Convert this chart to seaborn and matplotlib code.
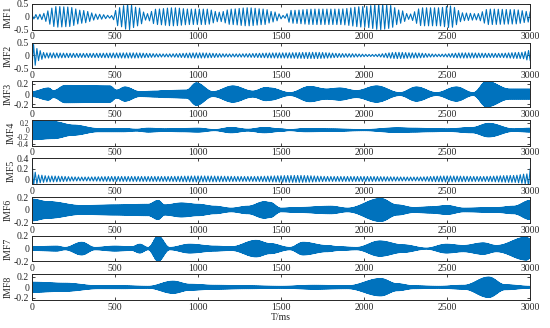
import numpy as np
import pandas as pd
import seaborn as sns
import matplotlib
matplotlib.use("Agg")
import matplotlib.pyplot as plt

# envelope knots (time in ms, half amplitude)
imf1_t = [0, 50, 150, 220, 300, 400, 480, 520, 580, 640, 690, 750, 850, 950, 1050, 1130, 1200, 1300, 1400, 1450, 1520, 1560, 1700, 1850, 2000, 2100, 2150, 2220, 2270, 2350, 2450, 2520, 2600, 2680, 2750, 2900, 3000]
imf1_a = [0.08, 0.1, 0.4, 0.38, 0.25, 0.1, 0.05, 0.35, 0.5, 0.35, 0.12, 0.3, 0.35, 0.3, 0.3, 0.18, 0.3, 0.35, 0.3, 0.2, 0.05, 0.25, 0.3, 0.3, 0.4, 0.5, 0.45, 0.25, 0.1, 0.35, 0.35, 0.42, 0.15, 0.12, 0.3, 0.28, 0.2]
imf2_t = [0, 15, 40, 80, 300, 600, 800, 1000, 1200, 1500, 1700, 1900, 2050, 2200, 2300, 2450, 2600, 2800, 2950, 3000]
imf2_a = [0.5, 0.4, 0.2, 0.1, 0.08, 0.1, 0.06, 0.1, 0.06, 0.1, 0.12, 0.07, 0.04, 0.12, 0.1, 0.05, 0.1, 0.08, 0.12, 0.2]
imf3_t = [0, 100, 130, 200, 470, 510, 560, 650, 750, 800, 930, 990, 1090, 1210, 1330, 1410, 1433, 1553, 1673, 1774, 1854, 1954, 2075, 2215, 2315, 2436, 2556, 2657, 2737, 2877, 3000]
imf3_a = [0.05, 0.12, 0.07, 0.17, 0.16, 0.08, 0.14, 0.05, 0.06, 0.07, 0.08, 0.22, 0.05, 0.16, 0.06, 0.13, 0.12, 0.03, 0.15, 0.1, 0.12, 0.07, 0.16, 0.03, 0.14, 0.03, 0.14, 0.03, 0.25, 0.1, 0.1]
imf4_t = [0, 130, 250, 400, 550, 630, 700, 800, 900, 1000, 1100, 1200, 1300, 1400, 1500, 1550, 1650, 1800, 2000, 2200, 2300, 2400, 2500, 2650, 2750, 2900, 3000]
imf4_a = [0.28, 0.25, 0.15, 0.05, 0.05, 0.03, 0.06, 0.04, 0.05, 0.06, 0.02, 0.08, 0.03, 0.08, 0.04, 0.02, 0.05, 0.04, 0.02, 0.07, 0.06, 0.05, 0.04, 0.08, 0.2, 0.04, 0.06]
imf5_t = [0, 10, 40, 100, 300, 500, 800, 1000, 1300, 1600, 1800, 2000, 2300, 2500, 2700, 2900, 2980, 3000]
imf5_a = [0.4, 0.15, 0.08, 0.06, 0.04, 0.05, 0.05, 0.06, 0.05, 0.07, 0.05, 0.05, 0.04, 0.06, 0.05, 0.07, 0.1, 0.2]
imf6_t = [0, 100, 300, 500, 700, 760, 800, 900, 1000, 1100, 1200, 1300, 1400, 1433, 1500, 1600, 1800, 1900, 2100, 2200, 2300, 2400, 2500, 2600, 2800, 2900, 3000]
imf6_a = [0.17, 0.13, 0.07, 0.08, 0.09, 0.15, 0.08, 0.11, 0.09, 0.06, 0.03, 0.06, 0.13, 0.12, 0.03, 0.04, 0.06, 0.03, 0.18, 0.08, 0.04, 0.05, 0.07, 0.03, 0.04, 0.06, 0.15]
imf7_t = [0, 150, 200, 300, 380, 500, 600, 650, 700, 760, 830, 950, 1100, 1200, 1350, 1433, 1553, 1633, 1774, 1854, 1954, 2095, 2235, 2375, 2496, 2597, 2717, 2797, 2978, 3000]
imf7_a = [0.03, 0.04, 0.02, 0.1, 0.02, 0.04, 0.03, 0.07, 0.02, 0.2, 0.02, 0.07, 0.04, 0.03, 0.13, 0.08, 0.02, 0.1, 0.05, 0.03, 0.02, 0.12, 0.06, 0.01, 0.07, 0.05, 0.09, 0.05, 0.18, 0.15]
imf8_t = [0, 200, 400, 550, 700, 850, 950, 1100, 1300, 1500, 1700, 1900, 2100, 2200, 2300, 2450, 2600, 2750, 2850, 3000]
imf8_a = [0.1, 0.08, 0.03, 0.03, 0.02, 0.12, 0.06, 0.04, 0.03, 0.02, 0.04, 0.03, 0.17, 0.07, 0.03, 0.02, 0.04, 0.2, 0.05, 0.02]

names = ["IMF1", "IMF2", "IMF3", "IMF4", "IMF5", "IMF6", "IMF7", "IMF8"]
knots_t = [imf1_t, imf2_t, imf3_t, imf4_t, imf5_t, imf6_t, imf7_t, imf8_t]
knots_a = [imf1_a, imf2_a, imf3_a, imf4_a, imf5_a, imf6_a, imf7_a, imf8_a]
half_period = [12, 10, 2, 2, 10, 2, 2, 2]   # ms between peaks
ylims = [(-0.5, 0.5), (-0.5, 0.5), (-0.25, 0.25), (-0.45, 0.3), (-0.1, 0.4), (-0.2, 0.2), (-0.2, 0.2), (-0.25, 0.25)]
yticks = [[-0.5, 0, 0.5], [-0.5, 0, 0.5], [-0.2, 0, 0.2], [-0.4, -0.2, 0, 0.2], [0, 0.2, 0.4], [-0.2, 0, 0.2], [-0.2, 0, 0.2], [-0.2, 0, 0.2]]
xticks = [0, 500, 1000, 1500, 2000, 2500, 3000]


def envelope(x, kt, ka):
    # smooth (cosine) step between the knots so bursts look rounded
    kt = np.asarray(kt, float)
    ka = np.asarray(ka, float)
    j = np.clip(np.searchsorted(kt, x, side="right") - 1, 0, len(kt) - 2)
    s = (x - kt[j]) / (kt[j + 1] - kt[j])
    w = (1 - np.cos(np.pi * np.clip(s, 0, 1))) / 2
    return ka[j] + (ka[j + 1] - ka[j]) * w


blue = "#0072BD"
sns.set_style("ticks")
plt.rcParams["font.family"] = ["Liberation Serif", "DejaVu Serif"]
plt.rcParams["xtick.direction"] = "in"
plt.rcParams["ytick.direction"] = "in"

fig, axes = plt.subplots(8, 1, figsize=(5.5, 3.28), dpi=100)
fig.subplots_adjust(left=0.058, right=0.964, top=0.988, bottom=0.085, hspace=0.5)

for i, ax in enumerate(axes):
    pk = np.arange(0, 3000 + half_period[i], half_period[i])
    sign = np.where(np.arange(len(pk)) % 2 == 0, 1, -1)
    if i == 1:
        sign = -sign
    env = envelope(pk, knots_t[i], knots_a[i])
    if i == 4:
        vals = np.where(sign > 0, env, -env * 0.9)
    else:
        vals = sign * env
    df = pd.DataFrame({"t": pk, "v": vals})
    lw = 0.8 if half_period[i] > 5 else 0.6
    sns.lineplot(data=df, x="t", y="v", ax=ax, color=blue, linewidth=lw)
    ax.set_xlim(0, 3000)
    ax.set_ylim(*ylims[i])
    ax.set_xticks(xticks)
    ax.set_yticks(yticks[i])
    ax.set_yticklabels([f"{v:g}" for v in yticks[i]])
    ax.set_ylabel(names[i], fontsize=7, labelpad=1)
    ax.set_xlabel("")
    ylab = 5.5 if i == 3 else 7
    ax.tick_params(axis="y", labelsize=ylab)
    ax.tick_params(axis="x", labelsize=7)
    ax.tick_params(length=2.5, width=0.6, top=True, right=True, pad=2)
    for s in ax.spines.values():
        s.set_linewidth(0.7)

axes[-1].set_xlabel("T/ms", fontsize=7, labelpad=1)
fig.savefig("out.png", dpi=100)
